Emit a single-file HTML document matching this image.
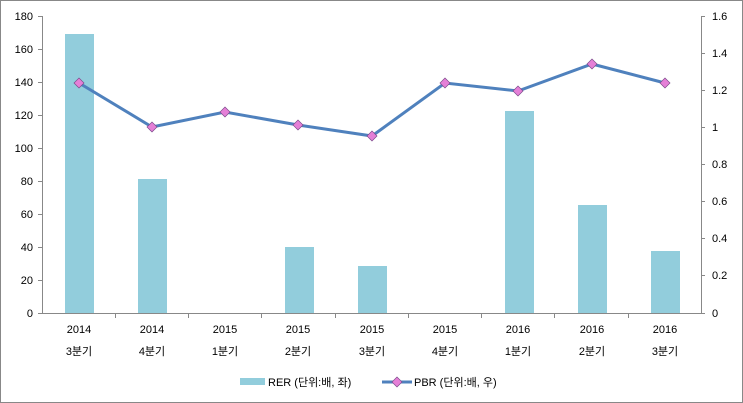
<!DOCTYPE html>
<html><head><meta charset="utf-8"><style>
body{margin:0;background:#fff}
svg{display:block;font-family:"Liberation Sans","Noto Sans CJK KR",sans-serif;font-size:11px;fill:#000}
</style></head><body>
<svg width="743" height="403" viewBox="0 0 743 403">
<rect x="0.5" y="0.5" width="742" height="402" fill="#fff" stroke="#888"/>
<g stroke="#888" stroke-width="1">
<line x1="42.5" y1="16" x2="42.5" y2="313"/>
<line x1="701.5" y1="16" x2="701.5" y2="313"/>
<line x1="42" y1="313.5" x2="701" y2="313.5"/>
</g>
<g stroke="#888">
<line x1="38" y1="16.5" x2="42" y2="16.5"/><line x1="38" y1="49.5" x2="42" y2="49.5"/><line x1="38" y1="82.5" x2="42" y2="82.5"/><line x1="38" y1="115.5" x2="42" y2="115.5"/><line x1="38" y1="148.5" x2="42" y2="148.5"/><line x1="38" y1="181.5" x2="42" y2="181.5"/><line x1="38" y1="214.5" x2="42" y2="214.5"/><line x1="38" y1="247.5" x2="42" y2="247.5"/><line x1="38" y1="280.5" x2="42" y2="280.5"/><line x1="38" y1="313.5" x2="42" y2="313.5"/>
<line x1="701" y1="16.5" x2="705" y2="16.5"/><line x1="701" y1="53.5" x2="705" y2="53.5"/><line x1="701" y1="90.5" x2="705" y2="90.5"/><line x1="701" y1="127.5" x2="705" y2="127.5"/><line x1="701" y1="164.5" x2="705" y2="164.5"/><line x1="701" y1="201.5" x2="705" y2="201.5"/><line x1="701" y1="238.5" x2="705" y2="238.5"/><line x1="701" y1="275.5" x2="705" y2="275.5"/><line x1="701" y1="313.5" x2="705" y2="313.5"/>
<line x1="115.5" y1="313" x2="115.5" y2="318"/><line x1="188.5" y1="313" x2="188.5" y2="318"/><line x1="261.5" y1="313" x2="261.5" y2="318"/><line x1="335.5" y1="313" x2="335.5" y2="318"/><line x1="408.5" y1="313" x2="408.5" y2="318"/><line x1="481.5" y1="313" x2="481.5" y2="318"/><line x1="554.5" y1="313" x2="554.5" y2="318"/><line x1="628.5" y1="313" x2="628.5" y2="318"/>
</g>
<g text-anchor="end">
<text x="33" y="20">180</text><text x="33" y="53">160</text><text x="33" y="86">140</text><text x="33" y="119">120</text><text x="33" y="152">100</text><text x="33" y="185">80</text><text x="33" y="218">60</text><text x="33" y="251">40</text><text x="33" y="284">20</text><text x="33" y="317">0</text>
</g>
<g>
<text x="712" y="20">1.6</text><text x="712" y="57">1.4</text><text x="712" y="94">1.2</text><text x="712" y="131">1</text><text x="712" y="168">0.8</text><text x="712" y="205">0.6</text><text x="712" y="242">0.4</text><text x="712" y="279">0.2</text><text x="712" y="317">0</text>
</g>
<g fill="#92cddc">
<rect x="65" y="34" width="29" height="279"/>
<rect x="138" y="179" width="29" height="134"/>
<rect x="285" y="247" width="29" height="66"/>
<rect x="358" y="266" width="29" height="47"/>
<rect x="505" y="111" width="29" height="202"/>
<rect x="578" y="205" width="29" height="108"/>
<rect x="651" y="251" width="29" height="62"/>
</g>
<polyline fill="none" stroke="#4f81bd" stroke-width="3" points="79,83 152,127 225,112 298,125 372,136 445,83 518,91 592,64 665,83"/>
<g fill="#e57fd7" stroke="#7a4a8a" stroke-width="0.7">
<path d="M79,78l5,5l-5,5l-5,-5z"/><path d="M152,122l5,5l-5,5l-5,-5z"/><path d="M225,107l5,5l-5,5l-5,-5z"/><path d="M298,120l5,5l-5,5l-5,-5z"/><path d="M372,131l5,5l-5,5l-5,-5z"/><path d="M445,78l5,5l-5,5l-5,-5z"/><path d="M518,86l5,5l-5,5l-5,-5z"/><path d="M592,59l5,5l-5,5l-5,-5z"/><path d="M665,78l5,5l-5,5l-5,-5z"/>
</g>
<g text-anchor="middle">
<text x="79" y="333">2014</text><text x="79" y="355">3분기</text>
<text x="152" y="333">2014</text><text x="152" y="355">4분기</text>
<text x="225" y="333">2015</text><text x="225" y="355">1분기</text>
<text x="298" y="333">2015</text><text x="298" y="355">2분기</text>
<text x="372" y="333">2015</text><text x="372" y="355">3분기</text>
<text x="445" y="333">2015</text><text x="445" y="355">4분기</text>
<text x="518" y="333">2016</text><text x="518" y="355">1분기</text>
<text x="592" y="333">2016</text><text x="592" y="355">2분기</text>
<text x="665" y="333">2016</text><text x="665" y="355">3분기</text>
</g>
<rect x="240" y="378" width="25" height="7" fill="#92cddc"/>
<text x="268" y="386">RER (단위:배, 좌)</text>
<line x1="382" y1="382" x2="412" y2="382" stroke="#4f81bd" stroke-width="3"/>
<path d="M397,377l5,5l-5,5l-5,-5z" fill="#e57fd7" stroke="#7a4a8a" stroke-width="0.7"/>
<text x="414" y="386">PBR (단위:배, 우)</text>
</svg>
</body></html>
